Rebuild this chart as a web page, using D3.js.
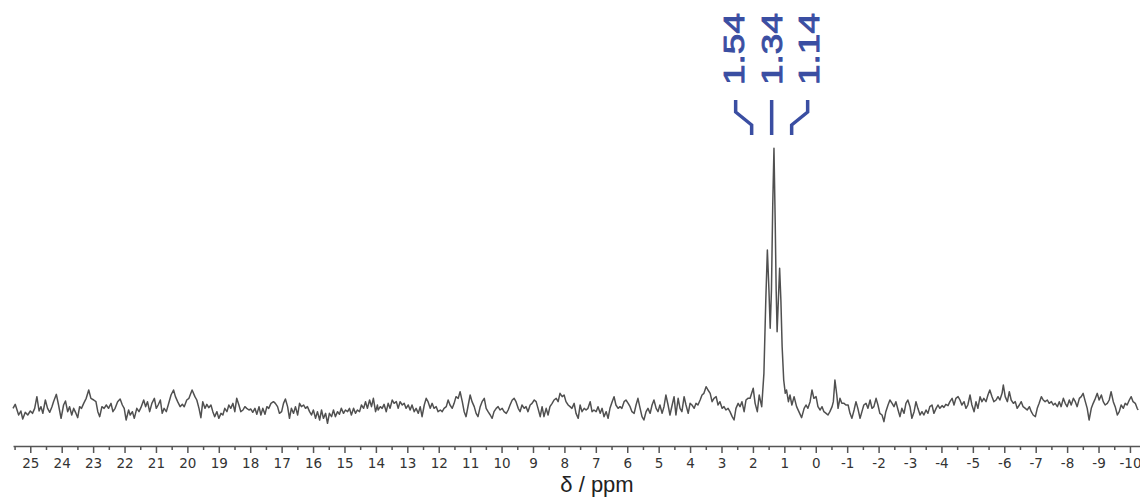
<!DOCTYPE html>
<html>
<head>
<meta charset="utf-8">
<script src="https://cdn.jsdelivr.net/npm/d3@7"></script>
<style>
  html, body { margin: 0; padding: 0; background: #fff; }
  svg { display: block; }
</style>
</head>
<body>
<svg id="chart" width="1140" height="500"></svg>
<script>
// ---- data ----
const majorTicks = d3.range(-10, 26);           // -10 ... 25 ppm
const minorTicks = d3.range(-9.5, 25.6, 1);     // half-ppm minor ticks
const peakLabels = ["1.54", "1.34", "1.14"];
const peakPpm = [1.54, 1.34, 1.14];
const axisTitle = "δ / ppm";

// spectrum: [chemical shift (ppm), intensity (a.u.)]
const spectrum = [
[25.55,5],[25.48,17],[25.37,-15],[25.30,-3],[25.24,-27],[25.16,-7],[25.08,-15],[25.00,-3],[24.93,-10],[24.86,5],
[24.79,40],[24.72,-3],[24.66,10],[24.60,-10],[24.52,30],[24.45,5],[24.38,-7],[24.31,10],[24.26,25],[24.17,47],
[24.10,15],[24.02,-25],[23.94,15],[23.88,27],[23.81,-5],[23.75,10],[23.68,-15],[23.62,5],[23.56,-7],[23.49,-23],
[23.43,10],[23.37,5],[23.30,20],[23.22,35],[23.14,60],[23.07,35],[22.98,30],[22.91,25],[22.85,-5],[22.79,-20],
[22.72,10],[22.65,5],[22.58,15],[22.51,5],[22.43,20],[22.37,-5],[22.30,5],[22.22,25],[22.14,33],[22.07,15],
[22.01,5],[21.95,-30],[21.87,0],[21.82,-15],[21.75,-5],[21.69,-25],[21.61,5],[21.54,-5],[21.48,7],[21.39,30],
[21.33,10],[21.27,25],[21.20,-5],[21.13,20],[21.05,35],[20.99,5],[20.93,15],[20.86,30],[20.80,-10],[20.74,5],
[20.67,-5],[20.61,15],[20.52,45],[20.44,60],[20.38,40],[20.31,25],[20.23,10],[20.16,17],[20.10,10],[20.02,30],
[19.95,35],
[19.85,60],[19.76,40],[19.70,30],[19.63,5],[19.57,-23],[19.51,25],[19.44,5],[19.38,17],[19.32,7],[19.25,15],
[19.19,-5],[19.13,-20],[19.06,-5],[19.00,-25],[18.93,-10],[18.87,-15],[18.81,5],[18.74,-5],[18.68,15],[18.62,5],
[18.55,20],[18.49,-5],[18.43,35],[18.36,15],[18.30,-5],[18.23,0],[18.17,10],[18.11,5],[18.04,0],[17.98,3],
[17.92,-7],[17.85,5],[17.79,-13],[17.72,10],[17.66,-15],[17.60,5],[17.53,-13],[17.47,10],[17.41,5],[17.34,20],
[17.26,25],[17.20,20],[17.13,10],[17.07,-10],[17.00,-5],[16.94,20],[16.88,33],[16.81,10],[16.75,-25],[16.69,5],
[16.62,-10],[16.56,10],[16.49,-15],[16.43,20],[16.37,10],[16.30,15],[16.24,5],[16.18,10],[16.11,-5],[16.05,-15],
[15.99,0],[15.92,-25],[15.86,-5],[15.79,-30],[15.73,0],[15.67,-25],[15.60,-10],[15.54,-40],[15.48,-10],[15.41,-20],
[15.35,0],[15.29,-20],[15.22,-5],[15.16,-13],[15.10,5],[15.03,-10],[14.97,0],[14.90,-5],[14.84,5],[14.78,-15],
[14.71,5],[14.65,-10],[14.59,0],[14.52,-5],[14.46,15],[14.39,5],[14.33,25],[14.27,5],[14.20,30],[14.14,10],
[14.08,35],[14.01,-5],[13.95,15],
[13.93,0],[13.86,10],[13.80,5],[13.74,17],[13.67,-5],[13.61,20],[13.55,5],[13.48,30],[13.42,20],[13.35,25],
[13.29,5],[13.23,25],[13.16,15],[13.10,20],[13.04,5],[12.97,15],[12.91,0],[12.85,15],[12.78,-5],[12.72,5],
[12.65,-10],[12.59,10],[12.53,-20],[12.46,15],[12.40,35],[12.34,25],[12.27,5],[12.21,20],[12.15,5],[12.08,10],
[12.02,-5],[11.95,0],[11.89,-5],[11.83,5],[11.76,10],[11.70,30],[11.64,15],[11.57,5],[11.51,20],[11.45,40],
[11.38,35],[11.32,55],[11.25,25],[11.19,-5],[11.13,-20],[11.06,15],[11.00,45],[10.94,25],[10.87,10],[10.81,-10],
[10.75,-20],[10.68,10],[10.62,25],[10.55,35],[10.49,5],[10.43,-5],[10.36,-15],[10.30,-25],[10.24,-5],[10.17,5],
[10.11,10],[10.05,0],[9.98,5],[9.92,-5],[9.85,-10],[9.79,0],[9.73,15],[9.66,30],[9.60,35],[9.54,25],
[9.47,5],[9.41,-5],[9.35,15],[9.28,5],[9.22,10],[9.16,-5],[9.09,15],[9.03,20],[8.96,30],[8.90,25],
[8.84,5],[8.77,-20],[8.71,10],[8.65,-20],[8.58,5],[8.52,-15],[8.46,10],[8.39,20],[8.33,30],[8.26,35],
[8.20,25],[8.14,50],[8.07,40],[8.01,45],
[7.95,25],[7.88,15],[7.82,10],[7.76,5],[7.69,20],[7.63,-10],[7.56,-25],[7.50,15],[7.44,-5],[7.37,5],
[7.31,0],[7.25,5],[7.18,25],[7.12,-5],[7.06,0],[6.99,-5],[6.93,10],[6.86,-10],[6.80,5],[6.74,-20],
[6.67,-5],[6.61,-25],[6.55,5],[6.48,25],[6.42,40],[6.36,15],[6.29,5],[6.23,10],[6.17,5],[6.10,25],
[6.04,30],[5.97,20],[5.91,10],[5.85,-5],[5.78,-10],[5.72,15],[5.66,35],[5.59,5],[5.53,-20],[5.47,-30],
[5.40,-5],[5.34,5],[5.27,-10],[5.21,15],[5.15,30],[5.08,5],[5.02,-5],[4.96,15],[4.89,-10],[4.83,10],
[4.77,45],[4.70,15],[4.64,-15],[4.57,15],[4.51,40],[4.45,-15],[4.38,35],[4.32,5],[4.26,-5],[4.19,40],
[4.13,15],[4.06,-10],[4.00,20],[3.94,15],[3.87,5],[3.81,20],[3.75,15],[3.68,30],[3.62,45],[3.56,50],
[3.49,70],[3.43,60],[3.36,50],[3.30,25],[3.24,35],[3.17,40],[3.11,15],[3.05,25],[2.98,5],[2.92,10],
[2.86,0],[2.79,5],[2.73,-5],[2.66,-20],[2.60,-30],[2.54,5],[2.47,20],[2.41,10],[2.35,25],[2.28,-5],
[2.22,30],[2.16,35],
[2.09,35],[1.99,65],[1.93,20],[1.86,-5],[1.80,45],[1.72,10],[1.65,110],[1.59,330],[1.54,480],[1.49,360],
[1.45,245],[1.41,360],[1.37,610],[1.33,785],[1.29,560],[1.26,360],[1.23,235],[1.19,330],[1.15,425],[1.11,330],
[1.07,190],[1.02,90],[0.97,50],[0.93,60],[0.87,25],[0.82,45],[0.76,15],[0.69,40],[0.61,10],
[0.45,-23],[0.37,5],[0.31,15],[0.25,5],[0.18,25],[0.12,60],[0.06,35],[-0.01,40],[-0.07,10],[-0.14,0],
[-0.20,10],[-0.26,-5],[-0.33,-10],[-0.39,-15],[-0.45,-5],[-0.52,10],[-0.56,25],[-0.61,90],[-0.67,45],[-0.71,5],
[-0.77,35],[-0.83,20],[-0.90,20],[-0.96,15],[-1.03,15],[-1.09,-10],[-1.15,-25],[-1.22,0],[-1.28,25],[-1.34,5],
[-1.41,-25],[-1.47,-5],[-1.53,15],[-1.60,20],[-1.66,5],[-1.73,30],[-1.79,5],[-1.85,10],[-1.92,35],[-1.98,15],
[-2.04,-10],[-2.11,-15],[-2.17,-35],[-2.23,-5],[-2.30,15],[-2.36,30],[-2.43,20],[-2.49,10],[-2.55,25],[-2.62,0],
[-2.68,-20],[-2.74,5],[-2.81,-10],[-2.87,20],[-2.93,30],[-3.00,10],[-3.06,-25],[-3.13,-5],[-3.19,25],[-3.25,5],
[-3.32,-15],[-3.38,-5],[-3.44,-15],[-3.51,0],[-3.57,-10],[-3.63,10],[-3.70,15],[-3.76,-10],[-3.83,5],[-3.89,15],
[-3.95,5],[-4.02,13],[-4.08,8],[-4.14,17],[-4.21,13],
[-4.27,25],[-4.34,35],[-4.40,15],[-4.46,35],[-4.53,40],[-4.59,30],[-4.65,15],[-4.72,25],[-4.78,5],[-4.84,15],
[-4.91,45],[-4.97,15],[-5.04,-5],[-5.10,25],[-5.16,5],[-5.23,40],[-5.29,25],[-5.35,35],[-5.42,25],[-5.48,45],
[-5.54,60],[-5.61,40],[-5.67,25],[-5.74,30],[-5.80,40],[-5.86,30],[-5.93,50],[-5.97,75],[-6.03,40],[-6.10,25],
[-6.16,55],[-6.22,30],[-6.29,20],[-6.35,25],[-6.41,5],[-6.48,15],[-6.54,25],[-6.60,10],[-6.67,5],[-6.73,0],
[-6.80,10],[-6.86,-5],[-6.92,-15],[-6.99,-20],[-7.05,5],[-7.11,20],[-7.18,40],[-7.24,30],[-7.30,25],[-7.37,30],
[-7.43,20],[-7.50,25],[-7.56,15],[-7.62,20],[-7.69,10],[-7.75,25],[-7.81,10],[-7.88,35],[-7.94,20],[-8.00,10],
[-8.07,30],[-8.13,15],[-8.20,35],[-8.26,25],[-8.32,10],[-8.39,35],[-8.45,40],[-8.51,50],[-8.58,25],[-8.64,5],
[-8.70,-30],[-8.77,5],[-8.83,20],[-8.90,35],[-8.96,50],[-9.02,30],[-9.09,45],[-9.15,25],[-9.21,15],[-9.28,20],
[-9.34,30],[-9.40,55],[-9.47,25],[-9.53,10],[-9.60,-15],[-9.66,-5],[-9.72,15],[-9.79,5],[-9.85,20],[-9.91,15],
[-9.98,30],[-10.04,40],[-10.10,25],[-10.17,20],[-10.23,5],[-10.26,0]
];

// ---- drawing ----
const svg = d3.select("#chart");
const blue = "#3a4ea2";

const x = d3.scaleLinear().domain([25.55, -10.32]).range([13, 1140]);
const y = d3.scaleLinear().domain([-60, 810]).range([430, 140]);
const axisY = 446;

// spectrum line
const line = d3.line().x(d => x(d[0])).y(d => y(d[1]));
svg.append("path")
  .datum(spectrum)
  .attr("d", line)
  .attr("fill", "none")
  .attr("stroke", "#505050")
  .attr("stroke-width", 1.5)
  .attr("stroke-linejoin", "round");

// major axis
const gMajor = svg.append("g")
  .attr("transform", `translate(0,${axisY})`)
  .call(d3.axisBottom(x)
    .tickValues(majorTicks)
    .tickSize(7)
    .tickSizeOuter(0)
    .tickPadding(5)
    .tickFormat(d => String(d)));
gMajor.select(".domain").attr("stroke", "#555").attr("stroke-width", 1.5);
gMajor.selectAll(".tick line").attr("stroke", "#555").attr("stroke-width", 1.5);
gMajor.selectAll(".tick text")
  .attr("fill", "#333")
  .style("font-family", "'DejaVu Sans', Verdana, sans-serif")
  .style("font-size", "13.5px");

// minor ticks
const gMinor = svg.append("g")
  .attr("transform", `translate(0,${axisY})`)
  .call(d3.axisBottom(x)
    .tickValues(minorTicks)
    .tickSize(4)
    .tickSizeOuter(0)
    .tickFormat(""));
gMinor.select(".domain").remove();
gMinor.selectAll(".tick line").attr("stroke", "#555").attr("stroke-width", 1.5);

// axis title
svg.append("text")
  .attr("x", 597)
  .attr("y", 492)
  .attr("text-anchor", "middle")
  .attr("fill", "#222")
  .style("font-family", "'Liberation Sans', Arial, sans-serif")
  .style("font-size", "22px")
  .text(axisTitle);

// peak labels with connector brackets
const centerX = x(d3.mean(peakPpm)) - 2;
const labelSpacing = 37.5;
const bracketTopSpacing = 36;
const bracketBottomSpacing = 20;

peakLabels.forEach((lab, i) => {
  const k = i - 1;
  const cx = centerX + k * labelSpacing;
  svg.append("text")
    .attr("transform", `translate(${cx + 10},85) rotate(-90)`)
    .attr("text-anchor", "start")
    .attr("fill", blue)
    .attr("stroke", blue)
    .attr("stroke-width", 0.9)
    .attr("textLength", 72)
    .attr("lengthAdjust", "spacingAndGlyphs")
    .style("font-family", "'Liberation Sans', Arial, sans-serif")
    .style("font-size", "29px")
    .text(lab);

  const topX = centerX + k * bracketTopSpacing;
  const botX = centerX + k * bracketBottomSpacing;
  svg.append("path")
    .attr("d", d3.line()([[topX, 100], [topX, 112], [botX, 125], [botX, 135]]))
    .attr("fill", "none")
    .attr("stroke", blue)
    .attr("stroke-width", 3.5)
    .attr("stroke-linejoin", "miter");
});
</script>
</body>
</html>
